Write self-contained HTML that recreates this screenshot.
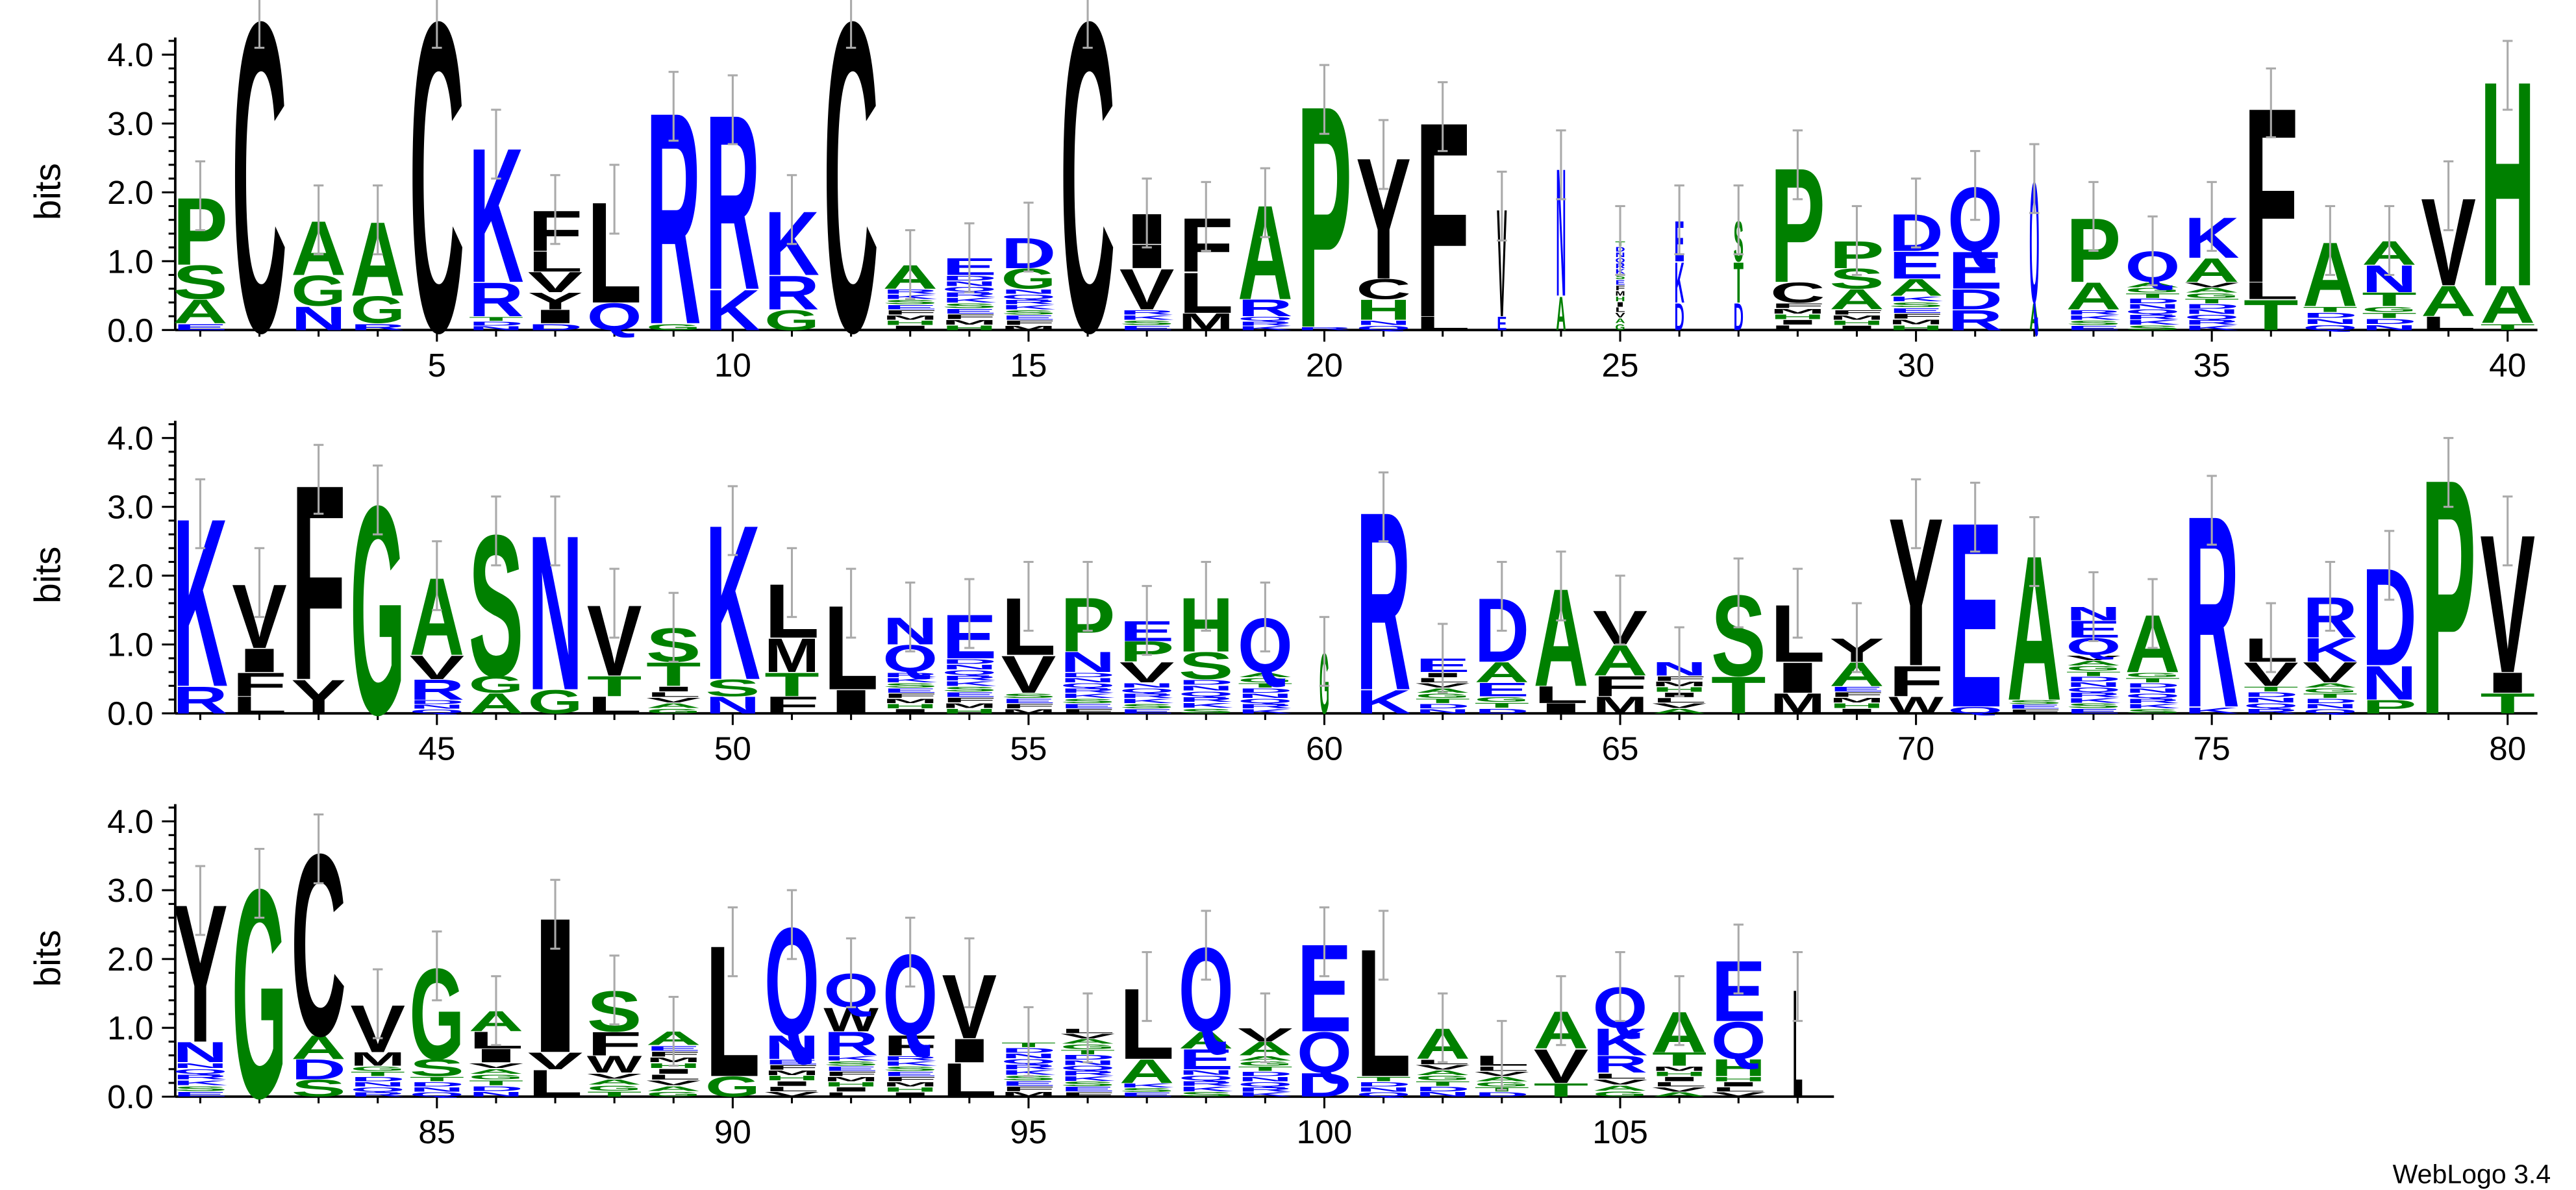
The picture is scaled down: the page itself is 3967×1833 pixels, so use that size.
<!DOCTYPE html>
<html><head><meta charset="utf-8"><style>
html,body{margin:0;padding:0;background:#fff;}
svg{display:block;}
text{font-family:"Liberation Sans",Arial,sans-serif;}
</style></head><body>
<svg id="s" xmlns="http://www.w3.org/2000/svg" width="3967" height="1833" viewBox="0 0 1545 714">
<rect width="1545" height="714" fill="#fff"/>
<g id="axes" font-size="20" fill="#000"></g>
<g id="logo"></g>
<text x="1530" y="710" font-size="16" text-anchor="end">WebLogo 3.4</text>
<text transform="translate(36,115) rotate(-90)" font-size="22" text-anchor="middle">bits</text>
<text transform="translate(36,345) rotate(-90)" font-size="22" text-anchor="middle">bits</text>
<text transform="translate(36,575) rotate(-90)" font-size="22" text-anchor="middle">bits</text>
</svg>
<script>
const NS="http://www.w3.org/2000/svg";
const U=41.3, X0=120, DX=35.49, W=33;
const rows=[
{base:198,start:1,end:40,axEnd:1522,data:[
"~.1A.35S.5P1.0","C4.6","N.35G.45A.8","~.1G.4A1.1","C4.6","~.2R.5K2.0","~.1I.2Y.25V.3L.3F.6","Q.4L1.5","~.1R3.15","K.6R2.6","G.3R.5K.95",
"C4.6","~.6A.35","~.8E.25","~.6G.3D.45","C4.6","~.3V.6I.35I.45","M.25L.6F.8","~.2R.25A1.4","~.05P3.3","~.15H.3C.3Y1.8","L.2F2.9",
"!E.2V1.6","!A.5N1.9","!~.1:1.2","!D.4K.6E.6","!D.4T.6S.6","~.4C.3P1.7","~.3A.3S.3P.4","~.5A.25E.4D.55","R.3D.3E.55Q.95","!A.4Q1.8",
"~.3A.4P.95","~.7Q.45","~.7A.35K.6","T.45L.25F2.6","~.35A.95","~.35T.2N.4A.35","L.2A.45V1.3","~.1A.55H3.05"]},
{base:428,start:41,end:80,axEnd:1522,data:[
"R.4K2.5","L.25F.35I.35V.95","Y.5F2.9","G3.1","~.2R.3V.35A1.15","A.3G.25S2.1","G.35N2.3","L.25T.3V1.05","~.4T.35S.5","N.25S.25K2.3",
"F.25T.35M.5L.8","I.35L1.25","~.6Q.4N.4","~.8E.65","~.3V.55L.85","~.6N.3P.8","~.45V.3P.3E.3","~.5S.4H.8","~.6Q.8","!G.9",
"K.35R2.65","~.6E.2","~.25E.2A.3D.95","I.15L.25A1.45","M.25F.3A.45V.5","~.55N.2","T.55S1.2","M.3I.45L.85","~.4A.35Y.35","W.25F.45Y2.2",
"Q.1E2.75","~.2A2.15","~.85Q.25E.25N.2","~.6A.85","~.1R2.85","~.4V.35L.35","~.45V.3K.35R.6","P.2N.5D1.45","P3.5","T.3I.3V2.05"]},
{base:658,start:81,end:108,axEnd:1100,data:[
"~.5N.3Y2.05","G3.1","S.25D.3A.35C2.7","~.45M.2V.7","~.3S.25G1.35","~.5I.2L.25A.3","L.4V.25I2.0","~.35W.25F.35S.6","~.75A.2","G.3L1.95",
"~.55N.35Q1.6","~.6R.35W.35Q.5","~.6F.3Q1.2","L.5I.35V.95","~.8","~1.0","~.2A.35L1.05","~.4E.3A.25Q1.25","~.6A.2V.2","D.35Q.6E1.3",
"~.3L1.9","~.55A.45","~.45L.15","T.2V.5A.55","~.35R.25K.4Q.6","~.45T.2A.6","~.3H.25Q.55E.9","!L1.6"]}
];
const BLUE=new Set("KRDENQ".split("")),GREEN=new Set("AGPSTH".split(""));
function col(L){return BLUE.has(L)?"#0000ff":GREEN.has(L)?"#008000":"#000";}
const logo=document.getElementById("logo"),axes=document.getElementById("axes");
function el(t,a,p,txt){const e=document.createElementNS(NS,t);for(const k in a)e.setAttribute(k,a[k]);if(txt!=null)e.textContent=txt;(p||logo).appendChild(e);return e;}
function letter(L,cx,yb,h,w){
  if(h<=0)return;
  const sy=h*U/71.6;
  el("text",{x:0,y:0,"font-size":100,"font-weight":"bold",textLength:w,lengthAdjust:"spacingAndGlyphs",fill:col(L),
    transform:`translate(${(cx-w/2).toFixed(2)},${yb.toFixed(2)}) scale(1,${sy.toFixed(4)})`},logo,L);
}
const smearL="ESKRQNDTGAVLIHMF";
rows.forEach(r=>{
  const b=r.base;
  el("line",{x1:105,y1:b,x2:105,y2:b-4.25*U,stroke:"#000","stroke-width":1.5},axes);
  for(let i=0;i<=21;i++){const v=i*0.2,y=b-v*U;const major=(i%5===0);
    el("line",{x1:major?97:101,y1:y,x2:105,y2:y,stroke:"#000","stroke-width":1.2},axes);
    if(major)el("text",{x:92,y:y+7,"text-anchor":"end"},axes,(i/5).toFixed(1));}
  el("line",{x1:105,y1:b,x2:r.axEnd,y2:b,stroke:"#000","stroke-width":1.5},axes);
  for(let p=r.start;p<=r.end;p++){const x=X0+(p-r.start)*DX;
    el("line",{x1:x,y1:b,x2:x,y2:b+(p%5===0?7:4),stroke:"#000","stroke-width":1.2},axes);
    if(p%5===0)el("text",{x:x,y:b+28,"text-anchor":"middle"},axes,String(p));}
  r.data.forEach((d,i)=>{
    const cx=X0+i*DX;let thin=false;
    if(d[0]==="!"){thin=true;d=d.slice(1);}
    const w=thin?6:W;
    let y=b,tot=0,k=i;
    const re=/([A-Z~:])([\d.]+)/g;let m;
    while((m=re.exec(d))){
      const L=m[1],h=parseFloat(m[2]);tot+=h;
      if(L==="~"||L===":"){const n=Math.max(1,Math.round(h/0.08));const hh=h/n;
        for(let j=0;j<n;j++){const c=smearL[(k++)%smearL.length];letter(c,cx,y,hh*0.85,w);y-=hh*U;}}
      else{letter(L,cx,y,h,w);y-=h*U;}
    }
    const e=0.5;
    const yt=b-(tot+e)*U,yl=b-Math.max(0,tot-e)*U;
    el("line",{x1:cx,y1:yt,x2:cx,y2:yl,stroke:"#aaa","stroke-width":1.2});
    el("line",{x1:cx-3,y1:yt,x2:cx+3,y2:yt,stroke:"#aaa","stroke-width":1.2});
    el("line",{x1:cx-3,y1:yl,x2:cx+3,y2:yl,stroke:"#aaa","stroke-width":1.2});
  });
});
</script>
</body></html>
